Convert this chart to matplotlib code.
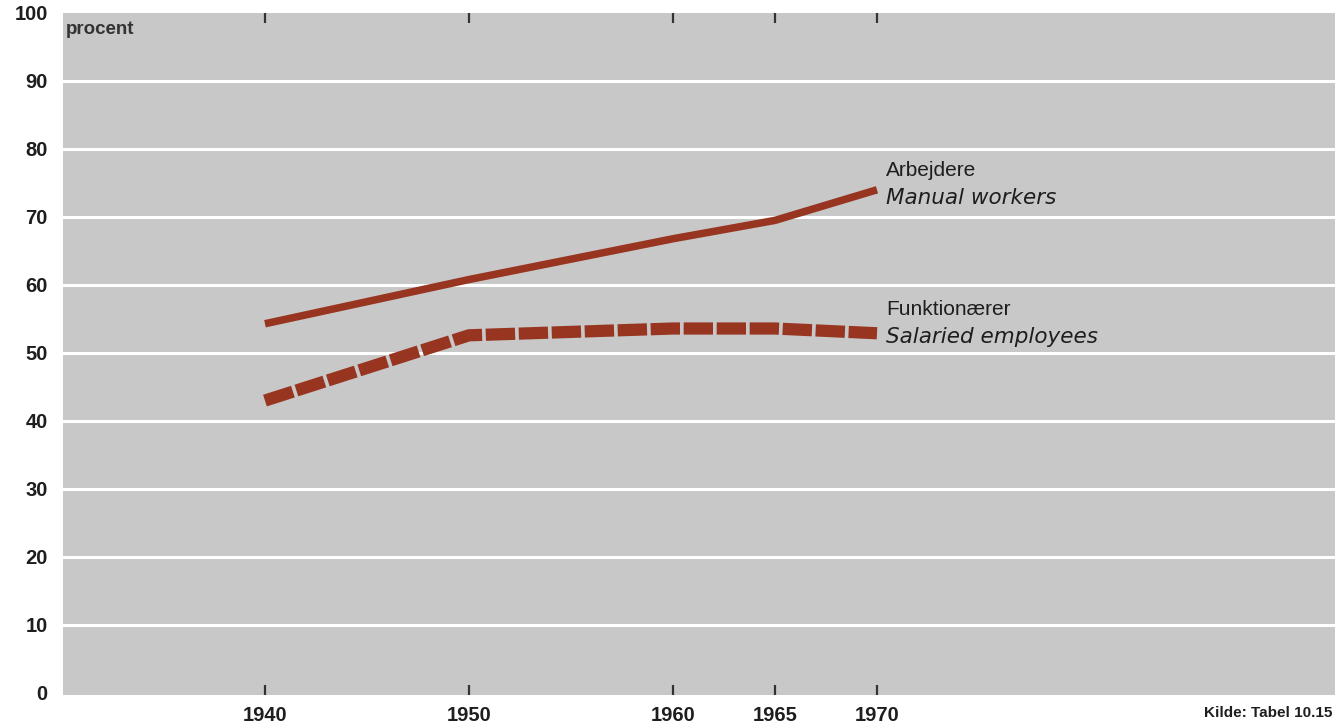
import matplotlib
matplotlib.use("Agg")
import matplotlib.pyplot as plt

# data (procent)
years = [1940, 1950, 1960, 1965, 1970]
arbejdere = [54.3, 60.8, 66.8, 69.5, 74.0]
funktionaerer = [43.0, 52.6, 53.6, 53.6, 52.9]

y_ticks = [0, 10, 20, 30, 40, 50, 60, 70, 80, 90, 100]
grid_levels = [10, 20, 30, 40, 50, 60, 70, 80, 90]
x_ticks = [1940, 1950, 1960, 1965, 1970]

RED = '#983521'
BG = '#c8c8c8'
TXT = '#1e1e1e'
plt.rcParams['font.family'] = ['Liberation Sans', 'DejaVu Sans']

fig = plt.figure(figsize=(13.35, 7.24), dpi=100)
ax = fig.add_axes([63 / 1335, 1 - 695 / 724, 1 - 63 / 1335, (695 - 13) / 724])
ax.set_facecolor(BG)

ax.set_xlim(1930.1, 1992.45)
ax.set_ylim(-0.3, 99.85)

for lv in grid_levels:
    ax.axhline(lv, color='white', lw=2.2, zorder=1)

ax.plot(years, arbejdere, color=RED, lw=5.4, solid_capstyle='butt', zorder=3)
ax.plot(years, funktionaerer, color=RED, lw=8.8, linestyle=(0, (2.4, 0.3)),
        dash_capstyle='butt', zorder=3)

for s in ax.spines.values():
    s.set_visible(False)

ax.set_yticks(y_ticks)
ax.set_yticklabels([str(v) for v in y_ticks], fontsize=14.5, fontweight='bold', color=TXT)
ax.tick_params(axis='y', length=0, pad=11)

ax.set_xticks(x_ticks)
ax.set_xticklabels([str(v) for v in x_ticks], fontsize=14.5, fontweight='bold', color=TXT)
ax.tick_params(axis='x', direction='in', length=7, width=1.6, color='#333333',
               top=True, bottom=True, pad=8)

ax.text(0.002, 0.988, 'procent', transform=ax.transAxes, fontsize=13.5,
        fontweight='bold', color='#333333', ha='left', va='top')

lx = 1970.45
ax.text(lx, 76.8, 'Arbejdere', fontsize=15, color=TXT, va='center', ha='left')
ax.text(lx, 72.8, 'Manual workers', fontsize=15.5, style='italic', color=TXT,
        va='center', ha='left', family=['DejaVu Sans'])
ax.text(lx, 56.4, 'Funktionærer', fontsize=15, color=TXT, va='center', ha='left')
ax.text(lx, 52.4, 'Salaried employees', fontsize=15.5, style='italic', color=TXT,
        va='center', ha='left', family=['DejaVu Sans'])

fig.text(0.998, 1 - 713 / 724, 'Kilde: Tabel 10.15', fontsize=11,
         fontweight='bold', color=TXT, ha='right', va='center')

fig.savefig('out.png', dpi=100, facecolor='white')
